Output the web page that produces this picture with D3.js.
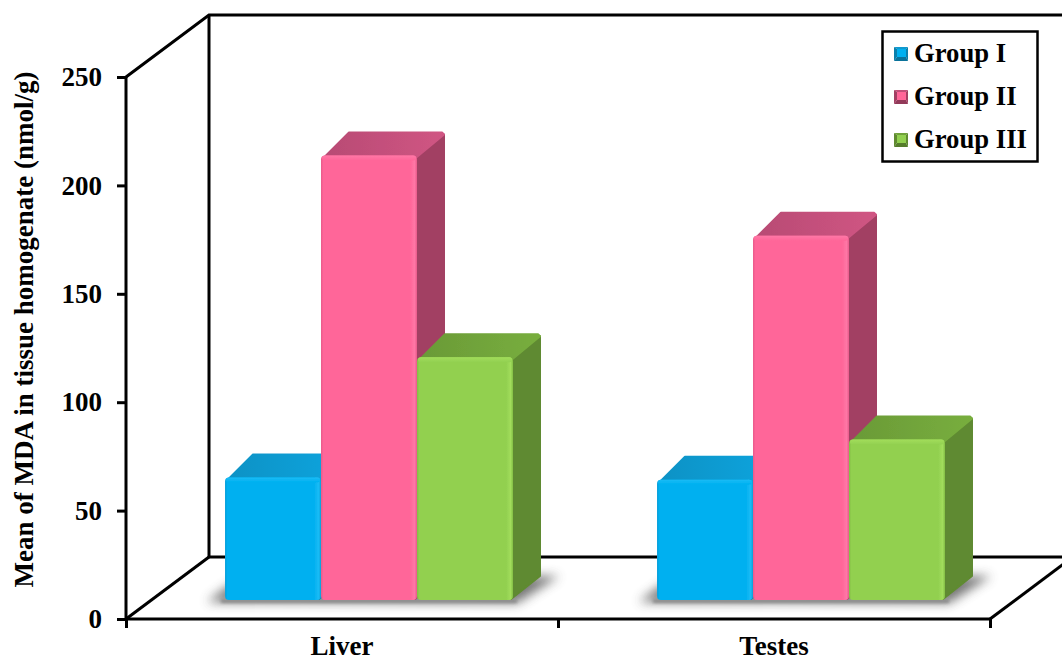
<!DOCTYPE html>
<html>
<head>
<meta charset="utf-8">
<script src="https://cdn.jsdelivr.net/npm/d3@7"></script>
<style>
  html, body { margin: 0; padding: 0; background: #fff; }
  svg { display: block; }
  text { font-family: "Liberation Serif", serif; font-weight: bold; fill: #000; }
</style>
</head>
<body>
<svg id="chart" width="1062" height="661"></svg>
<script>
// MDA levels per tissue and group
const tissues = ["Liver", "Testes"];
const groups = ["Group I", "Group II", "Group III"];
const groupI = [56.5, 55.5];
const groupII = [205, 168];
const groupIII = [112, 74];
const seriesValues = [groupI, groupII, groupIII];
const yTicks = [0, 50, 100, 150, 200, 250];
const yTitle = "Mean of MDA in tissue homogenate (nmol/g)";

const frontColors = ["#00b0f0", "#ff6699", "#92d050"];
const edgeColors = ["#0a9fd8", "#e85a8a", "#82bd45"];
const glowColors = ["#19bcf6", "#ff77a6", "#a2dd5c"];
const sideColors = ["#0b7fab", "#a23f63", "#5f8a30"];
const topColors = ["#0f9ad0", "#c24f7a", "#70a23a"];

const svg = d3.select("#chart");
const W = 1062, H = 661;

// Plot frame
const plotLeft = 126, plotRight = 990, plotBase = 619, plotTop = 77;
const wallDx = 83, wallDy = -62;      // back wall offset from the front plane
const planeDx = 27, planeDy = -19;    // plane the bars stand on
const depthDx = 28, depthDy = -24;    // depth of each bar

const x0 = d3.scaleBand().domain(tissues).range([plotLeft, plotRight]);
const x1 = d3.scaleBand().domain(groups).range([0, 288]);
const barInset = (x0.bandwidth() - x1.range()[1]) / 2;
const y = d3.scaleLinear().domain([0, 250]).range([plotBase, plotTop]);

// Gradients and filters
const defs = svg.append("defs");
defs.append("filter").attr("id", "shadowBlur")
  .attr("x", "-10%").attr("y", "-80%").attr("width", "120%").attr("height", "260%")
  .append("feGaussianBlur").attr("stdDeviation", 5.5);
defs.append("filter").attr("id", "bandBlur")
  .attr("x", "-5%").attr("y", "-200%").attr("width", "110%").attr("height", "500%")
  .append("feGaussianBlur").attr("stdDeviation", 1.6);
defs.append("filter").attr("id", "soft")
  .attr("x", "-5%").attr("y", "-5%").attr("width", "110%").attr("height", "110%")
  .append("feGaussianBlur").attr("stdDeviation", 0.6);

groups.forEach((g, i) => {
  const grad = defs.append("linearGradient").attr("id", `front${i}`);
  [[0, edgeColors[i]], [0.025, frontColors[i]], [0.93, frontColors[i]], [0.975, glowColors[i]], [1, edgeColors[i]]]
    .forEach(([o, c]) => grad.append("stop").attr("offset", o).attr("stop-color", c));
  const topGrad = defs.append("linearGradient").attr("id", `top${i}`);
  [[0, d3.color(topColors[i]).darker(0.15)], [1, d3.color(topColors[i]).brighter(0.2)]]
    .forEach(([o, c]) => topGrad.append("stop").attr("offset", o).attr("stop-color", c));
  const glow = defs.append("linearGradient").attr("id", `lip${i}`).attr("x1", 0).attr("x2", 0).attr("y1", 0).attr("y2", 1);
  [[0, glowColors[i]], [1, frontColors[i]]]
    .forEach(([o, c]) => glow.append("stop").attr("offset", o).attr("stop-color", c));
});

const line = d3.line();
const stroke = (sel, w = 3) => sel.attr("fill", "none").attr("stroke", "#000").attr("stroke-width", w);

// Back wall and floor
const wall = svg.append("g");
wall.append("path").call(stroke)
  .attr("d", line([[plotLeft, plotTop], [plotLeft + wallDx, plotTop + wallDy], [W, plotTop + wallDy]]));
wall.append("path").call(stroke)
  .attr("d", line([[plotLeft + wallDx, plotTop + wallDy], [plotLeft + wallDx, plotBase + wallDy], [W, plotBase + wallDy]]));
wall.append("path").call(stroke)
  .attr("d", line([[plotLeft, plotBase], [plotLeft + wallDx, plotBase + wallDy]]));
wall.append("path").call(stroke)
  .attr("d", line([[plotRight, plotBase], [plotRight + wallDx, plotBase + wallDy]]));

// Axes
const yAxis = d3.axisLeft(y).tickValues(yTicks).tickSize(9).tickPadding(15).tickFormat(d3.format("d"));
const yG = svg.append("g").attr("transform", `translate(${plotLeft},0)`).call(yAxis);
yG.attr("font-family", null).attr("font-size", null);
yG.select(".domain").attr("stroke", "#000").attr("stroke-width", 3).attr("d", `M0,${plotTop}V${plotBase}`);
yG.selectAll(".tick line").attr("stroke", "#000").attr("stroke-width", 3);
yG.selectAll(".tick text").attr("font-size", 27).attr("dy", "0.32em");

const xEdges = d3.scaleLinear().domain([0, tissues.length]).range([plotLeft, plotRight]);
const xG = svg.append("g").attr("transform", `translate(0,${plotBase})`)
  .call(d3.axisBottom(xEdges).tickValues(d3.range(tissues.length + 1)).tickSize(9).tickFormat(""));
xG.select(".domain").attr("stroke", "#000").attr("stroke-width", 3).attr("d", `M${plotLeft},0H${plotRight}`);
xG.selectAll(".tick line").attr("stroke", "#000").attr("stroke-width", 3);

svg.append("g").selectAll("text").data(tissues).join("text")
  .attr("x", d => x0(d) + x0.bandwidth() / 2)
  .attr("y", 655)
  .attr("text-anchor", "middle")
  .attr("font-size", 27)
  .text(d => d);

svg.append("text")
  .attr("transform", "translate(33,329.5) rotate(-90)")
  .attr("text-anchor", "middle")
  .attr("font-size", 27)
  .text(yTitle);

// Bars, one cluster per tissue
const clusters = svg.append("g").selectAll("g").data(tissues).join("g");

clusters.each(function (tissue, t) {
  const g = d3.select(this);
  const startX = x0(tissue) + barInset + planeDx;
  const floorY = plotBase + planeDy;
  const endX = startX + x1.range()[1];
  const px = d => startX + x1(d);

  // Soft contact shadow on the floor
  g.append("path")
    .attr("d", line([
      [startX - 18, floorY + 2],
      [startX + 6, floorY - 16],
      [endX + depthDx + 8, floorY + depthDy],
      [endX + depthDx + 18, floorY + depthDy],
      [endX + 4, floorY + 3]
    ]) + "Z")
    .attr("fill", "#666")
    .attr("opacity", 0.9)
    .attr("filter", "url(#shadowBlur)");

  // Thin band of shade right below the front edge
  g.append("rect")
    .attr("x", startX - 4).attr("y", floorY - 1)
    .attr("width", endX - startX + 8).attr("height", 4)
    .attr("fill", "#8d8d8d")
    .attr("filter", "url(#bandBlur)");

  groups.forEach((grp, i) => {
    const v = seriesValues[i][t];
    const xa = px(grp), w = x1.bandwidth(), xb = xa + w;
    const yTop = y(v) + planeDy, yBot = floorY;
    const bar = g.append("g").attr("filter", "url(#soft)");

    // Side face
    bar.append("path")
      .attr("d", line([[xb - 2, yTop + 2], [xb + depthDx - 1, yTop + depthDy + 3], [xb + depthDx - 1, yBot + depthDy], [xb - 2, yBot - 1]]) + "Z")
      .attr("fill", sideColors[i])
      .attr("stroke", sideColors[i]).attr("stroke-width", 2).attr("stroke-linejoin", "round");

    // Top face
    bar.append("path")
      .attr("d", line([[xa + 3, yTop + 2], [xa + depthDx, yTop + depthDy + 1], [xb + depthDx - 3, yTop + depthDy + 1], [xb + depthDx - 1, yTop + depthDy + 3], [xb - 2, yTop + 3]]) + "Z")
      .attr("fill", `url(#top${i})`)
      .attr("stroke", `url(#top${i})`).attr("stroke-width", 2).attr("stroke-linejoin", "round");

    // Front face with bevelled edges
    bar.append("rect")
      .attr("x", xa).attr("y", yTop).attr("width", w).attr("height", yBot - yTop)
      .attr("rx", 4).attr("ry", 4)
      .attr("fill", `url(#front${i})`);

    // Highlight along the top edge
    bar.append("rect")
      .attr("x", xa + 1).attr("y", yTop).attr("width", w - 2).attr("height", 5)
      .attr("rx", 3).attr("ry", 3)
      .attr("fill", `url(#lip${i})`);
  });
});

// Legend
const legend = svg.append("g");
legend.append("rect")
  .attr("x", 882.5).attr("y", 31.5).attr("width", 155).attr("height", 130)
  .attr("fill", "#fff").attr("stroke", "#000").attr("stroke-width", 2.5);

const legendRow = d3.scalePoint().domain(groups).range([54, 140]);
const rows = legend.selectAll("g").data(groups).join("g")
  .attr("transform", d => `translate(0,${legendRow(d)})`);

rows.each(function (d, i) {
  const r = d3.select(this);
  const cx = 901, cy = 0, s = 7;
  const corners = [[cx - s, cy - s], [cx + s, cy - s], [cx + s, cy + s], [cx - s, cy + s]];
  const inner = [[cx - s + 3, cy - s + 2], [cx + s - 2, cy - s + 2], [cx + s - 2, cy + s - 4], [cx - s + 3, cy + s - 4]];
  const faces = [topColors[i], sideColors[i], d3.color(sideColors[i]).darker(0.3), sideColors[i]];
  corners.forEach((c, k) => {
    const n = (k + 1) % 4;
    r.append("path").attr("d", line([c, corners[n], inner[n], inner[k]]) + "Z").attr("fill", faces[k]);
  });
  r.append("path").attr("d", line(inner) + "Z").attr("fill", frontColors[i]);
});

rows.append("text")
  .attr("x", 914).attr("y", 8)
  .attr("font-size", 26.7)
  .text(d => d);
</script>
</body>
</html>
